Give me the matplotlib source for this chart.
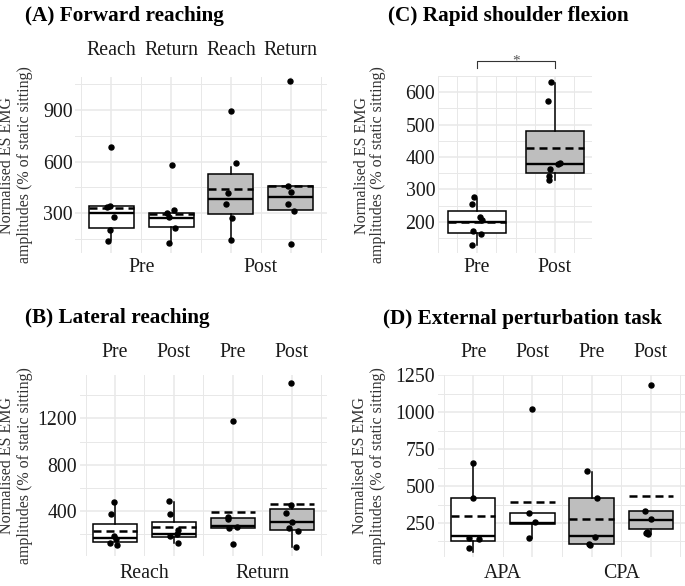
import matplotlib.pyplot as plt
from matplotlib.transforms import blended_transform_factory as blend

plt.rcParams['font.family'] = ['Liberation Serif', 'DejaVu Serif']

# ---- data ----
# (A) Forward reaching
a_top = ['Reach', 'Return', 'Reach', 'Return']
a_bottom = ['Pre', 'Post']
a_q1 = [213, 222, 296, 319]
a_med = [303, 271, 383, 395]
a_q3 = [342, 303, 528, 460]
a_lo = [145, 126, 145, 319]
a_hi = [342, 303, 571, 460]
a_mean = [329, 296, 439, 458]
a_points = [[683, 342, 335, 280, 203, 139],
            [580, 318, 300, 277, 213, 126],
            [896, 590, 420, 352, 273, 145],
            [1072, 458, 425, 354, 313, 120]]
a_yticks = [300, 600, 900]

# (C) Rapid shoulder flexion
c_bottom = ['Pre', 'Post']
c_q1 = [167, 351]
c_med = [201, 380]
c_q3 = [234, 479]
c_lo = [129, 328]
c_hi = [269, 628]
c_mean = [200, 428]
c_points = [[277, 254, 215, 205, 172, 164, 128],
            [630, 574, 382, 380, 362, 340, 328]]
c_yticks = [200, 300, 400, 500, 600]

# (B) Lateral reaching
b_top = ['Pre', 'Post', 'Pre', 'Post']
b_bottom = ['Reach', 'Return']
b_q1 = [135, 173, 256, 236]
b_med = [164, 199, 273, 308]
b_q3 = [285, 302, 337, 417]
b_lo = [135, 121, 256, 92]
b_hi = [480, 480, 337, 452]
b_mean = [230, 259, 394, 460]
b_points = [[480, 374, 187, 158, 126, 107],
            [486, 374, 236, 187, 201, 121],
            [1179, 351, 328, 253, 259, 115],
            [1507, 452, 380, 303, 251, 230, 92]]
b_yticks = [400, 800, 1200]

# (D) External perturbation task
d_top = ['Pre', 'Post', 'Pre', 'Post']
d_bottom = ['APA', 'CPA']
d_q1 = [129, 241, 105, 210]
d_med = [161, 250, 161, 268]
d_q3 = [421, 320, 421, 329]
d_lo = [55, 145, 105, 178]
d_hi = [656, 320, 597, 329]
d_mean = [295, 394, 275, 431]
d_points = [[656, 421, 145, 140, 78],
            [1023, 320, 254, 145],
            [599, 421, 156, 105, 102],
            [1182, 331, 275, 190, 174, 183]]
d_yticks = [250, 500, 750, 1000, 1250]

# horizontal jitter of the dots, as seen in the picture
a_jit = [[0, -0.02, -0.08, 0.04, -0.02, -0.06], [0.01, 0.05, -0.07, -0.03, 0.07, -0.04],
         [0, 0.09, -0.045, -0.08, 0.01, 0], [-0.01, -0.05, 0, -0.05, 0.06, 0]]
c_jit = [[-0.04, -0.064, 0.034, 0.064, -0.05, 0.047, -0.06],
         [-0.047, -0.085, 0.072, 0.04, -0.064, -0.068, -0.068]]
b_jit = [[-0.02, -0.07, -0.01, 0.01, -0.085, 0.03], [-0.08, -0.06, 0.07, -0.07, 0.06, 0.07],
         [0, -0.08, -0.08, -0.07, 0.07, 0], [-0.01, -0.01, -0.1, 0, -0.04, 0.1, 0.07]]
d_jit = [[0, 0, -0.07, 0.1, -0.08], [0, -0.05, 0.05, -0.06],
         [-0.07, 0.1, 0.06, -0.04, -0.02], [0, -0.1, 0, -0.07, -0.05, -0.08]]

W, H = 685, 586
GREY = '#bebebe'
GRID = '#e8e8e8'
fig = plt.figure(figsize=(W / 100, H / 100), dpi=100)


def add_ax(x0, y0, x1, y1):
    return fig.add_axes([x0 / W, 1 - y1 / H, (x1 - x0) / W, (y1 - y0) / H])


def panel(ax, q1, med, q3, lo, hi, mean, pts, jit, fills, ylim, yticks, yminor, xlim):
    n = len(q1)
    pos = list(range(1, n + 1))
    stats = [dict(q1=q1[i], med=med[i], q3=q3[i], whislo=lo[i], whishi=hi[i], fliers=[])
             for i in range(n)]
    bp = ax.bxp(stats, positions=pos, widths=0.75, patch_artist=True, showcaps=False,
                showfliers=False,
                boxprops=dict(linewidth=1.1, edgecolor='black'),
                medianprops=dict(color='black', linewidth=1.7),
                whiskerprops=dict(color='black', linewidth=1.1))
    for patch, f in zip(bp['boxes'], fills):
        patch.set_facecolor(f)
    for i in range(n):
        ax.hlines(mean[i], pos[i] - 0.375, pos[i] + 0.375, colors='black',
                  linestyles=(0, (3.2, 2.0)), linewidth=1.8, zorder=4)
        ax.plot([pos[i] + j for j in jit[i]], pts[i], 'o', ms=3.6, color='black',
                mec='black', zorder=5, linestyle='none')
    ax.set_ylim(*ylim)
    ax.set_xlim(*xlim)
    ax.set_yticks(yticks)
    ax.set_yticks(yminor, minor=True)
    ax.grid(which='major', color=GRID, linewidth=1.1)
    ax.grid(which='minor', color=GRID, linewidth=0.7)
    ax.set_axisbelow(True)
    for s in ax.spines.values():
        s.set_visible(False)
    ax.tick_params(which='both', length=0)
    ax.tick_params(axis='y', labelsize=14.3, labelcolor='#1a1a1a', pad=2)


def labels_x(ax, xs, texts, baseline_px):
    tr = blend(ax.transData, fig.transFigure)
    for x, t in zip(xs, texts):
        ax.text(x, 1 - baseline_px / H, t, transform=tr, ha='center', va='baseline',
                fontsize=14.3, color='#1a1a1a')


def ylabel(xc1, xc2, yc):
    fig.text(xc1 / W, 1 - yc / H, 'Normalised ES EMG', rotation=90, ha='center',
             va='center', fontsize=11.5, color='#333333')
    fig.text(xc2 / W, 1 - yc / H, 'amplitudes (% of static sitting)', rotation=90,
             ha='center', va='center', fontsize=11.5, color='#333333')


fills4_a = ['white', 'white', GREY, GREY]

# (A)
axA = add_ax(75.4, 77, 326.6, 253)
panel(axA, a_q1, a_med, a_q3, a_lo, a_hi, a_mean, a_points, a_jit, fills4_a,
      (68, 1093), a_yticks, [150, 450, 750, 1050], (0.4, 4.6))
axA.set_xticks([1, 2, 3, 4], labels=[])
axA.set_xticks([0.5, 1.5, 2.5, 3.5, 4.5], minor=True)
labels_x(axA, [1, 2, 3, 4], a_top, 55)
labels_x(axA, [1.5, 3.5], a_bottom, 272)
fig.text(25 / W, 1 - 21 / H, '(A) Forward reaching', fontsize=15.3, fontweight='bold',
         va='baseline')
ylabel(7, 25, 165)

# (C)
axC = add_ax(438, 76, 592, 253.3)
panel(axC, c_q1, c_med, c_q3, c_lo, c_hi, c_mean, c_points, c_jit, ['white', GREY],
      (103, 648), c_yticks, [150, 250, 350, 450, 550, 650], (0.52, 2.48))
axC.set_xticks([1, 2], labels=[])
axC.set_xticks([0.5, 0.75, 1.25, 1.5, 1.75, 2.25], minor=True)
labels_x(axC, [1, 2], c_bottom, 272)
axC.plot([1, 1, 2, 2], [675, 695, 695, 675], color='#333333', linewidth=0.8,
         clip_on=False)
axC.text(1.5, 686, '*', ha='center', va='baseline', fontsize=11, color='#555555',
         clip_on=False)
fig.text(388 / W, 1 - 21 / H, '(C) Rapid shoulder flexion', fontsize=15.3,
         fontweight='bold', va='baseline')
ylabel(362, 378, 165)

# (B)
axB = add_ax(79.7, 375, 327, 556)
panel(axB, b_q1, b_med, b_q3, b_lo, b_hi, b_mean, b_points, b_jit, fills4_a,
      (12, 1574), b_yticks, [200, 600, 1000, 1400], (0.4, 4.6))
axB.set_xticks([1, 2, 3, 4], labels=[])
axB.set_xticks([0.5, 1.5, 2.5, 3.5, 4.5], minor=True)
labels_x(axB, [1, 2, 3, 4], b_top, 357)
labels_x(axB, [1.5, 3.5], b_bottom, 578)
fig.text(25 / W, 1 - 323 / H, '(B) Lateral reaching', fontsize=15.3, fontweight='bold',
         va='baseline')
ylabel(7, 25, 466)

# (D)
axD = add_ax(437.8, 375, 685, 556.7)
panel(axD, d_q1, d_med, d_q3, d_lo, d_hi, d_mean, d_points, d_jit, fills4_a,
      (21.6, 1252), d_yticks, [125, 375, 625, 875, 1125], (0.4, 4.58))
axD.set_xticks([1, 2, 3, 4], labels=[])
axD.set_xticks([0.5, 1.5, 2.5, 3.5, 4.5], minor=True)
labels_x(axD, [1, 2, 3, 4], d_top, 357)
labels_x(axD, [1.5, 3.5], d_bottom, 578)
fig.text(383 / W, 1 - 324 / H, '(D) External perturbation task', fontsize=15.3,
         fontweight='bold', va='baseline')
ylabel(360, 378, 466)

fig.savefig('out.png', dpi=100)
